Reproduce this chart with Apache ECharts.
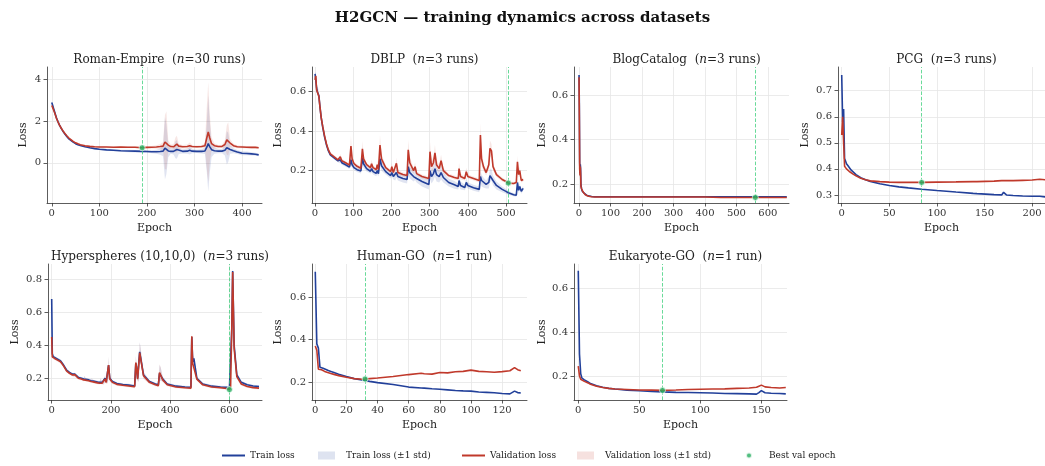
<!DOCTYPE html>
<html><head><meta charset="utf-8">
<script src="https://cdn.jsdelivr.net/npm/echarts@6/dist/echarts.min.js"></script>
<style>html,body{margin:0;padding:0;background:#fff}#c{width:1045px;height:466px}</style>
</head><body><div id="c"></div>
<script>
// ---------------- DATA ----------------
const romanEpochs = [0,2,4,6,8,10,13,16,20,24, 28,32,36,40,45,50,55,60,70,80, 90,100,115,130,145,160,175,190,200,210, 220,228,234,238,241,245,250,256,260,263, 267,275,285,290,295,305,315,322,326,329, 332,336,342,350,358,364,368,371,375,382, 390,400,410,420,428,435];
const romanTrain = [2.9,2.75,2.6,2.45,2.3,2.15,1.98,1.82,1.65,1.5, 1.37,1.25,1.15,1.07,0.99,0.92,0.87,0.83,0.77,0.72, 0.68,0.65,0.62,0.6,0.58,0.57,0.56,0.55,0.54,0.53, 0.53,0.54,0.56,0.7,0.66,0.57,0.55,0.55,0.62,0.64, 0.57,0.55,0.56,0.6,0.56,0.55,0.55,0.57,0.75,0.92, 0.78,0.63,0.58,0.56,0.56,0.6,0.72,0.74,0.64,0.58, 0.52,0.46,0.45,0.43,0.41,0.38];
const romanVal = [2.75,2.65,2.52,2.4,2.27,2.13,1.97,1.82,1.66,1.52, 1.4,1.29,1.19,1.11,1.03,0.96,0.91,0.87,0.82,0.79, 0.77,0.76,0.76,0.75,0.76,0.75,0.75,0.72,0.74,0.75, 0.76,0.78,0.8,1.0,1.08,0.85,0.78,0.77,0.86,0.9, 0.8,0.77,0.78,0.82,0.78,0.77,0.78,0.82,1.2,1.48, 1.2,0.92,0.82,0.78,0.79,0.88,1.1,1.15,0.95,0.82, 0.77,0.76,0.75,0.74,0.74,0.72];
const romanTrainSd = [0.06,0.06,0.05,0.05,0.05,0.05,0.04,0.04,0.04,0.04, 0.04,0.03,0.03,0.03,0.03,0.03,0.03,0.03,0.03,0.03, 0.03,0.03,0.03,0.04,0.05,0.06,0.06,0.06,0.06,0.07, 0.1,0.15,0.25,1.5,1.2,0.3,0.12,0.15,0.4,0.45, 0.15,0.1,0.12,0.2,0.1,0.08,0.1,0.15,1.2,2.3, 1.3,0.35,0.15,0.1,0.1,0.25,0.8,0.7,0.2,0.12, 0.1,0.1,0.09,0.08,0.07,0.06];
const romanValSd = [0.06,0.06,0.05,0.05,0.05,0.05,0.04,0.04,0.04,0.04, 0.04,0.03,0.03,0.03,0.03,0.03,0.03,0.03,0.03,0.03, 0.03,0.03,0.03,0.03,0.04,0.04,0.04,0.04,0.05,0.06, 0.08,0.12,0.2,1.3,1.4,0.25,0.1,0.12,0.35,0.4, 0.12,0.08,0.1,0.15,0.08,0.06,0.08,0.12,1.5,2.4, 1.2,0.3,0.12,0.08,0.08,0.2,0.7,0.8,0.18,0.1, 0.07,0.06,0.06,0.05,0.05,0.05];

const dblpEpochs = [0,2,4,6,8,10,13,16,20,25, 30,35,40,50,60,64,66,70,80,90, 94,97,102,110,120,124,127,135,145,148, 152,160,163,166,170,174,185,198,201,205, 210,213,217,230,241,244,248,258,262,266, 280,298,301,305,310,314,318,325,330,336, 350,365,375,377,381,392,396,400,415,430, 433,436,441,448,455,458,462,466,475,490, 500,506,520,527,530,533,536,540,545];
const dblpTrain = [0.69,0.685,0.62,0.6,0.61,0.58,0.52,0.47,0.42,0.37, 0.33,0.3,0.28,0.265,0.25,0.245,0.255,0.24,0.23,0.218, 0.255,0.23,0.215,0.205,0.198,0.265,0.235,0.21,0.197,0.21, 0.195,0.186,0.2,0.185,0.26,0.225,0.195,0.175,0.19,0.17, 0.165,0.19,0.17,0.16,0.155,0.22,0.19,0.17,0.178,0.16, 0.145,0.13,0.2,0.17,0.185,0.21,0.18,0.17,0.19,0.165, 0.14,0.128,0.12,0.15,0.125,0.115,0.14,0.125,0.113,0.105, 0.17,0.15,0.14,0.13,0.14,0.175,0.18,0.15,0.125,0.105, 0.095,0.088,0.078,0.076,0.14,0.1,0.12,0.095,0.11];
const dblpVal = [0.66,0.68,0.61,0.6,0.605,0.575,0.52,0.47,0.425,0.375, 0.335,0.305,0.285,0.27,0.255,0.25,0.27,0.25,0.24,0.228, 0.325,0.26,0.235,0.222,0.212,0.31,0.26,0.23,0.215,0.235, 0.215,0.205,0.23,0.205,0.33,0.26,0.215,0.195,0.22,0.19, 0.185,0.237,0.19,0.18,0.175,0.305,0.24,0.2,0.22,0.185, 0.17,0.16,0.296,0.22,0.24,0.29,0.23,0.21,0.25,0.2, 0.175,0.165,0.16,0.21,0.17,0.16,0.195,0.17,0.16,0.15, 0.38,0.26,0.22,0.19,0.23,0.313,0.3,0.22,0.18,0.155, 0.145,0.137,0.135,0.14,0.245,0.18,0.2,0.15,0.155];
const dblpTrainSd = [0.01,0.01,0.015,0.01,0.01,0.01,0.01,0.01,0.008,0.008, 0.008,0.008,0.008,0.008,0.008,0.008,0.012,0.01,0.01,0.01, 0.03,0.015,0.012,0.012,0.012,0.03,0.02,0.015,0.012,0.02, 0.015,0.015,0.02,0.015,0.035,0.025,0.015,0.015,0.02,0.015, 0.015,0.025,0.02,0.02,0.02,0.04,0.03,0.025,0.025,0.02, 0.025,0.025,0.045,0.035,0.035,0.04,0.035,0.03,0.035,0.025, 0.02,0.02,0.015,0.03,0.02,0.015,0.025,0.015,0.015,0.015, 0.03,0.03,0.025,0.02,0.03,0.035,0.03,0.025,0.02,0.015, 0.012,0.01,0.008,0.008,0.02,0.015,0.015,0.012,0.012];
const dblpValSd = [0.01,0.01,0.01,0.01,0.01,0.01,0.008,0.008,0.008,0.008, 0.008,0.008,0.008,0.008,0.008,0.008,0.015,0.01,0.008,0.008, 0.05,0.02,0.01,0.01,0.01,0.04,0.02,0.01,0.01,0.02, 0.01,0.01,0.02,0.01,0.05,0.025,0.01,0.01,0.02,0.01, 0.01,0.03,0.015,0.01,0.01,0.05,0.03,0.015,0.02,0.01, 0.01,0.01,0.05,0.025,0.03,0.04,0.025,0.02,0.03,0.015, 0.01,0.01,0.01,0.03,0.015,0.01,0.02,0.01,0.01,0.01, 0.06,0.03,0.02,0.015,0.025,0.04,0.035,0.02,0.012,0.01, 0.008,0.008,0.008,0.008,0.03,0.015,0.02,0.01,0.01];

const blogEpochs = [0,1,2,3,4,5,6,8,10,13,16,20,25,30,40,50,60,100,200,300,400,450,500,560,600,660];
const blogTrain = [0.69,0.55,0.3,0.25,0.29,0.27,0.2,0.18,0.17,0.165,0.16,0.155,0.15,0.148,0.145,0.144,0.144,0.144,0.144,0.144,0.144,0.144,0.144,0.144,0.144,0.144];
const blogVal = [0.68,0.5,0.27,0.24,0.28,0.25,0.19,0.18,0.175,0.165,0.16,0.153,0.148,0.146,0.144,0.143,0.143,0.143,0.143,0.143,0.143,0.141,0.141,0.141,0.141,0.141];

const pcgEpochs = [0,1,2,3,4,5,6,7,8,10,12,15,20,25,30,40,50,60,70,84,100,120,138,140,142,160,168,170,173,180,190,200,208,210,215];
const pcgTrain = [0.76,0.58,0.63,0.44,0.43,0.42,0.42,0.41,0.405,0.395,0.39,0.378,0.366,0.358,0.352,0.343,0.336,0.331,0.327,0.322,0.317,0.311,0.306,0.308,0.305,0.301,0.3,0.31,0.3,0.298,0.296,0.295,0.295,0.294,0.292];
const pcgVal = [0.53,0.6,0.5,0.41,0.405,0.4,0.395,0.4,0.39,0.385,0.38,0.373,0.364,0.358,0.354,0.351,0.349,0.348,0.348,0.348,0.349,0.35,0.351,0.355,0.351,0.353,0.355,0.359,0.355,0.355,0.356,0.357,0.36,0.358,0.358];

const hyperEpochs = [0,2,5,10,20,30,40,50,60,70, 76,78,82,90,100,108,110,114,125,133, 135,140,155,162,165,170,176,180,184,190, 192,196,205,220,240,260,280,284,286,290, 294,297,300,310,330,350,360,364,368,375, 390,420,450,470,473,476,480,490,510,540, 570,590,600,604,608,611,616,625,640,660, 680,700];
const hyperTrain = [0.68,0.35,0.33,0.325,0.315,0.305,0.28,0.25,0.235,0.225, 0.218,0.225,0.215,0.205,0.2,0.195,0.205,0.195,0.19,0.185, 0.19,0.183,0.177,0.175,0.185,0.175,0.172,0.2,0.18,0.185, 0.28,0.2,0.18,0.168,0.162,0.158,0.153,0.29,0.27,0.2, 0.2,0.36,0.35,0.22,0.18,0.165,0.16,0.23,0.225,0.195, 0.165,0.152,0.147,0.145,0.45,0.3,0.32,0.2,0.165,0.152, 0.147,0.145,0.14,0.14,0.5,0.85,0.4,0.22,0.175,0.16, 0.153,0.15];
const hyperVal = [0.45,0.33,0.325,0.32,0.31,0.3,0.275,0.245,0.23,0.22, 0.213,0.222,0.21,0.2,0.195,0.19,0.2,0.19,0.185,0.18, 0.187,0.178,0.172,0.17,0.18,0.17,0.168,0.195,0.175,0.18, 0.28,0.195,0.175,0.163,0.157,0.153,0.148,0.295,0.27,0.195, 0.2,0.355,0.345,0.215,0.175,0.16,0.155,0.235,0.228,0.19, 0.16,0.147,0.142,0.14,0.455,0.29,0.3,0.195,0.16,0.147, 0.142,0.138,0.131,0.15,0.5,0.845,0.38,0.21,0.165,0.15, 0.143,0.14];
const hyperSd = [0.02,0.01,0.01,0.01,0.01,0.01,0.01,0.01,0.008,0.008, 0.008,0.01,0.008,0.008,0.008,0.008,0.01,0.008,0.008,0.008, 0.01,0.008,0.008,0.008,0.015,0.008,0.008,0.02,0.01,0.01, 0.05,0.015,0.01,0.008,0.008,0.008,0.008,0.04,0.03,0.015, 0.02,0.06,0.04,0.02,0.01,0.008,0.008,0.05,0.04,0.015, 0.008,0.008,0.008,0.008,0.02,0.02,0.02,0.01,0.008,0.008, 0.008,0.008,0.008,0.008,0.03,0.02,0.03,0.015,0.01,0.008, 0.008,0.008];

const humanEpochs = [0,1,2,3,4,5,6,8,10,12,15,20,25,30,32,35,40,50,60,68,70,75,80,85,90,95,100,105,110,115,120,125,126,128,130,132];
const humanTrain = [0.72,0.38,0.36,0.27,0.27,0.265,0.26,0.255,0.25,0.245,0.237,0.226,0.216,0.21,0.207,0.203,0.197,0.188,0.176,0.172,0.171,0.168,0.166,0.163,0.16,0.158,0.157,0.153,0.151,0.149,0.146,0.144,0.143,0.157,0.15,0.148];
const humanVal = [0.37,0.35,0.26,0.265,0.258,0.255,0.25,0.245,0.24,0.236,0.23,0.222,0.216,0.213,0.214,0.216,0.219,0.226,0.235,0.241,0.239,0.237,0.245,0.243,0.248,0.25,0.256,0.25,0.248,0.246,0.249,0.253,0.256,0.268,0.258,0.253];

const eukEpochs = [0,1,2,3,5,8,10,15,20,25,30,40,50,60,69,80,90,100,110,120,130,140,146,148,150,153,158,165,170];
const eukTrain = [0.68,0.3,0.21,0.19,0.182,0.172,0.165,0.155,0.148,0.143,0.14,0.135,0.132,0.129,0.127,0.125,0.124,0.123,0.122,0.12,0.119,0.118,0.117,0.124,0.133,0.123,0.121,0.12,0.118];
const eukVal = [0.245,0.2,0.185,0.18,0.175,0.168,0.162,0.153,0.147,0.143,0.14,0.138,0.136,0.135,0.134,0.136,0.138,0.139,0.14,0.141,0.143,0.145,0.148,0.153,0.158,0.15,0.147,0.145,0.147];

const bestEpochs = [190, 506, 560, 84, 600, 32, 69];
const panelNames = ['Roman-Empire', 'DBLP', 'BlogCatalog', 'PCG', 'Hyperspheres (10,10,0)', 'Human-GO', 'Eukaryote-GO'];
const panelRuns = ['30 runs', '3 runs', '3 runs', '3 runs', '3 runs', '1 run', '1 run'];
const xTicks = [[0,100,200,300,400],[0,100,200,300,400,500],[0,100,200,300,400,500,600],[0,50,100,150,200],[0,200,400,600],[0,20,40,60,80,100,120],[0,50,100,150]];
const yTicks = [[0,2,4],[0.2,0.4,0.6],[0.2,0.4,0.6],[0.3,0.4,0.5,0.6,0.7],[0.2,0.4,0.6,0.8],[0.2,0.4,0.6],[0.2,0.4,0.6]];

// ---------------- LAYOUT / STYLE ----------------
const FONT = 'DejaVu Serif';
const BLUE = '#22409a', RED = '#c0392b', GREEN = '#27ae60';
const panels = [
  {ep:romanEpochs, tr:romanTrain, va:romanVal, trSd:romanTrainSd, vaSd:romanValSd, g:[47,67,215,136], x:[-10,442], y:[-1.93,4.6], gap:18},
  {ep:dblpEpochs, tr:dblpTrain, va:dblpVal, trSd:dblpTrainSd, vaSd:dblpValSd, g:[312,67,215,136], x:[-8,555], y:[0.036,0.725], gap:28},
  {ep:blogEpochs, tr:blogTrain, va:blogVal, g:[574,67,215,136], x:[-16,667], y:[0.116,0.726], gap:26},
  {ep:pcgEpochs, tr:pcgTrain, va:pcgVal, g:[838,67,207,136], x:[-3.9,213.5], y:[0.269,0.791], gap:27},
  {ep:hyperEpochs, tr:hyperTrain, va:hyperVal, trSd:hyperSd, vaSd:hyperSd, g:[48,264,214,136], x:[-12.5,710], y:[0.068,0.893], gap:27},
  {ep:humanEpochs, tr:humanTrain, va:humanVal, g:[312,264,215,136], x:[-2.1,136], y:[0.115,0.757], gap:28},
  {ep:eukEpochs, tr:eukTrain, va:eukVal, g:[574,264,213,136], x:[-3.5,171], y:[0.09,0.711], gap:26}
];

const grids = [], xAxes = [], yAxes = [], series = [];
const titles = [{
  text: 'H2GCN — training dynamics across datasets', left: 'center', top: 6,
  textStyle: {fontFamily: FONT, fontSize: 15, fontWeight: 'bold', color: '#111'}
}];
const axisLine = {show: true, onZero: false, lineStyle: {color: '#333', width: 0.8}};
const tick = (vals) => ({show: true, length: 3.5, customValues: vals, lineStyle: {color: '#333', width: 0.8}});
const split = {show: true, lineStyle: {color: '#e6e6e6', width: 0.8}};

panels.forEach((p, i) => {
  const [l, t, w, h] = p.g;
  grids.push({left: l, top: t, width: w, height: h, containLabel: false});
  titles.push({
    text: '{a|' + panelNames[i] + '  (}{i|n}{a|=' + panelRuns[i] + ')}',
    left: l + w / 2, top: t - 18, textAlign: 'center',
    textStyle: {fontWeight: 'normal', fontFamily: FONT, fontSize: 12, color: '#222',
      rich: {a: {fontFamily: FONT, fontSize: 12, fontWeight: 'normal', color: '#222'},
             i: {fontFamily: FONT, fontSize: 12, fontWeight: 'normal', fontStyle: 'italic', color: '#222'}}}
  });
  xAxes.push({
    type: 'value', gridIndex: i, min: p.x[0], max: p.x[1],
    name: 'Epoch', nameLocation: 'middle', nameGap: 20,
    nameTextStyle: {fontFamily: FONT, fontSize: 11, color: '#222'},
    axisLine, axisTick: tick(xTicks[i]), splitLine: split,
    axisLabel: {customValues: xTicks[i], fontFamily: FONT, fontSize: 10, color: '#333', margin: 5}
  });
  yAxes.push({
    type: 'value', gridIndex: i, min: p.y[0], max: p.y[1],
    name: 'Loss', nameLocation: 'middle', nameGap: p.gap,
    nameTextStyle: {fontFamily: FONT, fontSize: 11, color: '#222'},
    axisLine, axisTick: tick(yTicks[i]), splitLine: split,
    axisLabel: {customValues: yTicks[i], fontFamily: FONT, fontSize: 10, color: '#333', margin: 6}
  });
  const base = {xAxisIndex: i, yAxisIndex: i, type: 'line', showSymbol: false, symbol: 'none', animation: false, silent: true};
  const addBand = (mean, sd, color, name, op) => {
    series.push({
      type: 'custom', name: name, xAxisIndex: i, yAxisIndex: i, silent: true, animation: false, z: 1, clip: true,
      itemStyle: {color: color},
      data: p.ep.map((e, k) => [e, mean[k] - sd[k], mean[k] + sd[k]]),
      encode: {x: 0, y: [1, 2]},
      renderItem: (params, api) => {
        if (params.dataIndex !== 0) return null;
        const up = p.ep.map((e, k) => api.coord([e, mean[k] + sd[k]]));
        const lo = p.ep.map((e, k) => api.coord([e, mean[k] - sd[k]])).reverse();
        const cs = params.coordSys;
        return {type: 'polygon', shape: {points: up.concat(lo)}, style: {fill: color, opacity: op},
          clipPath: {type: 'rect', shape: {x: cs.x, y: cs.y, width: cs.width, height: cs.height}}};
      }
    });
  };
  if (p.trSd) addBand(p.tr, p.trSd, BLUE, 'Train loss (±1 std)', 0.14);
  if (p.vaSd) addBand(p.va, p.vaSd, RED, 'Validation loss (±1 std)', 0.12);
  series.push(Object.assign({}, base, {
    name: 'Train loss', data: p.ep.map((e, k) => [e, p.tr[k]]),
    lineStyle: {color: BLUE, width: 1.6}, itemStyle: {color: BLUE}, z: 3
  }));
  series.push(Object.assign({}, base, {
    name: 'Validation loss', data: p.ep.map((e, k) => [e, p.va[k]]),
    lineStyle: {color: RED, width: 1.6}, itemStyle: {color: RED}, z: 4
  }));
  const bi = p.ep.indexOf(bestEpochs[i]);
  series.push({
    name: 'Best val epoch', type: 'scatter', xAxisIndex: i, yAxisIndex: i, animation: false, silent: true,
    data: [[bestEpochs[i], p.va[bi]]], symbolSize: 6, z: 6,
    itemStyle: {color: GREEN, borderColor: '#fff', borderWidth: 0.8},
    markLine: {silent: true, symbol: ['none', 'none'], label: {show: false}, animation: false,
      lineStyle: {type: 'dashed', color: 'rgba(46,204,113,0.8)', width: 0.9},
      data: [{xAxis: bestEpochs[i]}]}
  });
});

const legText = {fontFamily: FONT, fontSize: 9, color: '#222'};
const leg = (left, name, icon, w, h, color, pad) => ({
  left: left, top: 451, padding: 0, itemWidth: w, itemHeight: h, selectedMode: false,
  textStyle: Object.assign({}, legText, {padding: [0, 0, 0, pad]}),
  data: [{name: name, icon: icon, itemStyle: {color: color}}]
});
const legends = [
  leg(222, 'Train loss', 'rect', 23, 2, BLUE, 0),
  leg(318, 'Train loss (±1 std)', 'rect', 17, 8, 'rgba(34,64,154,0.15)', 6),
  leg(462, 'Validation loss', 'rect', 23, 2, RED, 0),
  leg(577, 'Validation loss (±1 std)', 'rect', 17, 8, 'rgba(192,57,43,0.15)', 6),
  leg(745, 'Best val epoch', 'circle', 6, 6, GREEN, 12)
];

const chart = echarts.init(document.getElementById('c'), null, {renderer: 'canvas'});
chart.setOption({
  animation: false, backgroundColor: '#fff',
  title: titles, grid: grids, xAxis: xAxes, yAxis: yAxes, legend: legends, series: series
});
</script></body></html>
